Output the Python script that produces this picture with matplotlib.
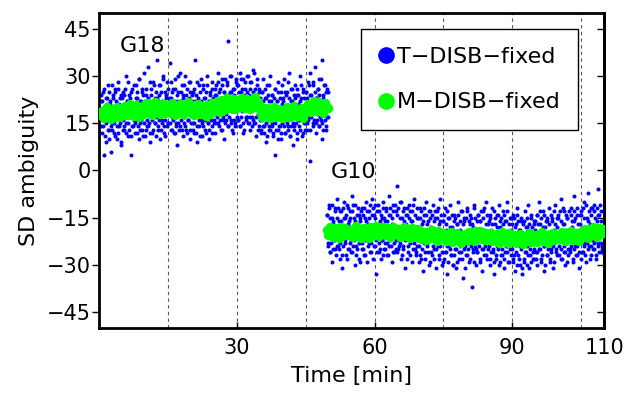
import numpy as np
import matplotlib as mpl
mpl.use('Agg')
import matplotlib.pyplot as plt
from matplotlib.lines import Line2D

mpl.rc('font', family='DejaVu Sans')

# T-DISB-fixed, satellite G18 (0 - 50 min), first pass over the arc
t_disb_g18 = [
    22, 14, 19, 25, 5, 17, 20, 9, 23, 16, 27, 13, 18, 21, 6,
    15, 24, 19, 12, 26, 17, 10, 21, 28, 14, 18, 23, 8, 20, 16,
    25, 13, 19, 30, 15, 22, 11, 17, 24, 20, 5, 26, 14, 21, 18,
    12, 27, 16, 23, 19, 10, 29, 15, 22, 13, 25, 18, 31, 11, 20,
    24, 16, 33, 14, 21, 9, 26, 18, 12, 28, 20, 15, 23, 17, 35,
    13, 22, 27, 10, 19, 25, 16, 30, 14, 21, 11, 24, 18, 28, 15,
    20, 34, 13, 23, 17, 26, 12, 19, 29, 15, 22, 8, 25, 18, 31,
    14, 21, 27, 11, 24, 17, 30, 13, 20, 26, 16, 23, 10, 28, 19,
    22, 15, 25, 12, 35, 18, 24, 9, 21, 27, 14, 19, 29, 16, 11,
    26, 17, 13, 23, 20, 30, 15, 22, 10, 25, 18, 28, 14, 21, 16,
    24, 12, 27, 19, 31, 15, 22, 26, 13, 20, 29, 17, 25, 10, 23,
    18, 28, 14, 41, 21, 25, 16, 30, 19, 12, 26, 22, 15, 29, 20,
    27, 16, 23, 31, 14, 25, 19, 29, 12, 22, 26, 17, 30, 21, 15,
    24, 13, 28, 20, 17, 32, 22, 15, 26, 11, 23, 29, 18, 25, 14,
    21, 12, 25, 16, 29, 14, 19, 23, 9, 27, 17, 22, 13, 30, 18,
    15, 24, 11, 20, 26, 5, 17, 22, 13, 28, 19, 14, 25, 10, 21,
    23, 16, 29, 12, 20, 25, 14, 18, 31, 11, 22, 17, 26, 8, 19,
    14, 27, 19, 24, 10, 21, 16, 30, 13, 23, 18, 26, 12, 20, 15,
    25, 13, 22, 28, 17, 31, 3, 24, 19, 27, 15, 21, 33, 12, 23,
    18, 26, 14, 29, 21, 16, 35, 10, 24, 20, 27, 13, 22, 17, 25,
]

# T-DISB-fixed, satellite G18, second pass (points around the green band)
t_disb_g18_b = [
    24, 12, 22, 14, 26, 11, 23, 15, 21, 13, 25, 10, 22, 14, 27,
    13, 23, 15, 25, 11, 22, 14, 26, 12, 21, 15, 24, 9, 23, 13,
    24, 14, 26, 12, 22, 15, 28, 13, 23, 11, 25, 14, 21, 16, 27,
    15, 23, 12, 25, 14, 29, 13, 22, 16, 26, 11, 24, 15, 22, 13,
    26, 14, 23, 15, 28, 12, 24, 16, 22, 13, 27, 15, 25, 11, 23,
    14, 24, 16, 27, 13, 22, 15, 29, 12, 25, 16, 23, 14, 26, 15,
    23, 15, 28, 13, 25, 16, 22, 12, 26, 14, 24, 15, 30, 13, 22,
    16, 25, 13, 23, 15, 27, 14, 24, 12, 22, 16, 28, 13, 25, 15,
    24, 13, 26, 15, 22, 12, 28, 14, 23, 16, 25, 11, 22, 15, 27,
    14, 23, 16, 25, 12, 27, 15, 22, 13, 24, 16, 26, 12, 23, 15,
    26, 15, 24, 17, 28, 14, 25, 16, 23, 13, 27, 16, 25, 15, 29,
    16, 27, 14, 24, 17, 30, 15, 25, 13, 26, 16, 24, 14, 28, 17,
    27, 16, 25, 14, 29, 17, 26, 15, 24, 13, 28, 16, 25, 17, 30,
    15, 26, 17, 28, 14, 25, 16, 31, 15, 24, 17, 27, 13, 26, 16,
    23, 13, 25, 14, 22, 12, 26, 15, 23, 11, 24, 14, 27, 13, 22,
    14, 24, 12, 23, 15, 26, 13, 22, 10, 25, 14, 23, 12, 27, 15,
    22, 14, 25, 12, 24, 15, 28, 13, 23, 11, 26, 14, 22, 15, 24,
    13, 23, 15, 26, 12, 24, 14, 22, 16, 27, 11, 25, 15, 23, 13,
    25, 15, 23, 16, 27, 13, 24, 17, 22, 14, 28, 16, 25, 15, 23,
    16, 26, 14, 24, 17, 29, 15, 23, 13, 27, 16, 25, 14, 26, 17,
]

# T-DISB-fixed, satellite G10 (50 - 110 min), first pass
t_disb_g10 = [
    -14, -23, -18, -11, -26, -20, -15, -29, -17, -22, -12, -25, -19, -9, -21,
    -24, -16, -28, -13, -20, -31, -18, -10, -23, -15, -27, -21, -12, -17, -25,
    -13, -22, -8, -26, -19, -15, -30, -11, -24, -18, -21, -14, -28, -16, -20,
    -25, -12, -19, -27, -15, -22, -10, -29, -17, -23, -13, -20, -26, -9, -18,
    -21, -14, -24, -11, -33, -17, -20, -26, -13, -19, -28, -15, -22, -10, -25,
    -16, -23, -12, -27, -19, -8, -24, -14, -21, -29, -17, -11, -26, -18, -22,
    -13, -5, -25, -18, -22, -10, -28, -15, -20, -24, -12, -31, -17, -21, -14,
    -26, -19, -11, -23, -16, -29, -13, -21, -9, -25, -18, -27, -15, -22, -20,
    -24, -12, -28, -17, -21, -32, -14, -26, -19, -10, -23, -16, -30, -20, -13,
    -18, -27, -11, -22, -25, -15, -31, -20, -13, -24, -17, -28, -9, -21, -26,
    -16, -29, -22, -12, -26, -19, -33, -15, -24, -20, -11, -27, -18, -23, -30,
    -14, -25, -21, -31, -17, -10, -28, -23, -19, -26, -13, -22, -34, -16, -24,
    -20, -27, -12, -23, -29, -17, -21, -15, -37, -25, -18, -11, -24, -30, -19,
    -26, -14, -22, -28, -16, -20, -32, -13, -25, -19, -23, -10, -27, -21, -17,
    -24, -15, -30, -19, -12, -26, -22, -33, -17, -28, -14, -21, -25, -11, -29,
    -18, -23, -27, -13, -20, -31, -16, -24, -10, -26, -21, -29, -15, -22, -19,
    -25, -14, -28, -21, -32, -17, -23, -12, -27, -19, -30, -24, -16, -33, -20,
    -22, -29, -13, -26, -18, -24, -11, -31, -20, -27, -15, -23, -28, -17, -25,
    -19, -26, -14, -30, -22, -10, -25, -17, -28, -21, -13, -24, -32, -18, -23,
    -27, -16, -21, -12, -29, -20, -25, -15, -31, -19, -23, -11, -26, -18, -22,
    -14, -24, -20, -28, -9, -22, -17, -26, -13, -30, -19, -23, -15, -27, -21,
    -25, -12, -22, -18, -29, -16, -8, -24, -20, -27, -14, -21, -31, -17, -23,
    -13, -21, -26, -10, -23, -18, -29, -15, -20, -7, -24, -17, -27, -12, -22,
    -19, -25, -11, -22, -28, -16, -6, -23, -14, -20, -26, -13, -24, -18, -21,
]

# T-DISB-fixed, satellite G10, second pass (points around the green band)
t_disb_g10_b = [
    -14, -24, -12, -26, -15, -23, -11, -25, -16, -22, -13, -27, -15, -24, -12,
    -25, -13, -23, -16, -27, -12, -24, -15, -22, -14, -28, -11, -25, -16, -23,
    -15, -26, -13, -24, -11, -22, -16, -27, -14, -25, -12, -23, -15, -29, -13,
    -23, -14, -25, -12, -27, -16, -22, -13, -24, -15, -26, -11, -23, -14, -28,
    -12, -24, -15, -22, -13, -26, -11, -23, -16, -25, -14, -22, -12, -27, -15,
    -25, -13, -23, -16, -27, -14, -22, -12, -24, -15, -26, -13, -23, -11, -25,
    -14, -26, -12, -24, -15, -23, -10, -27, -13, -25, -16, -22, -14, -28, -12,
    -24, -15, -27, -13, -22, -16, -25, -11, -23, -14, -26, -12, -24, -15, -29,
    -15, -27, -13, -25, -16, -23, -12, -28, -14, -24, -17, -26, -13, -29, -15,
    -26, -14, -24, -16, -28, -13, -25, -15, -23, -12, -27, -16, -24, -14, -30,
    -16, -28, -14, -26, -17, -24, -13, -29, -15, -25, -18, -27, -14, -30, -16,
    -27, -15, -25, -17, -29, -14, -26, -16, -24, -13, -28, -17, -25, -15, -31,
    -15, -27, -13, -25, -16, -28, -14, -24, -17, -26, -12, -29, -15, -25, -16,
    -26, -14, -24, -16, -29, -13, -25, -15, -27, -12, -24, -17, -28, -14, -25,
    -16, -28, -14, -26, -17, -25, -13, -29, -15, -27, -18, -24, -14, -30, -16,
    -27, -15, -25, -17, -28, -14, -26, -16, -24, -13, -29, -17, -25, -15, -27,
    -17, -29, -15, -27, -18, -26, -14, -30, -16, -28, -19, -25, -15, -31, -17,
    -28, -16, -26, -18, -30, -15, -27, -17, -25, -14, -29, -18, -26, -16, -28,
    -16, -28, -14, -26, -17, -25, -13, -29, -15, -27, -18, -24, -14, -30, -16,
    -27, -15, -25, -17, -28, -14, -26, -16, -24, -13, -29, -17, -25, -15, -27,
    -15, -27, -13, -25, -16, -28, -12, -24, -17, -26, -14, -29, -15, -25, -13,
    -26, -14, -24, -16, -28, -13, -25, -15, -27, -12, -24, -17, -26, -14, -28,
    -14, -26, -12, -24, -15, -27, -11, -23, -16, -25, -13, -28, -14, -24, -12,
    -25, -13, -23, -15, -27, -12, -24, -14, -26, -11, -23, -16, -25, -13, -27,
]

# M-DISB-fixed, satellite G18
m_disb_g18 = [
    17.5, 19.0, 16.8, 18.6, 20.1, 17.2, 18.9, 16.4, 19.6, 18.1, 17.0, 20.3, 18.4, 16.9, 19.2,
    18.3, 20.4, 17.6, 19.8, 21.0, 18.0, 19.4, 17.2, 20.7, 18.8, 16.9, 20.1, 19.0, 17.8, 21.2,
    19.1, 21.3, 18.2, 20.5, 17.6, 19.9, 21.7, 18.7, 20.2, 17.9, 19.4, 21.0, 18.4, 20.8, 19.6,
    20.3, 18.1, 21.5, 19.2, 17.7, 20.9, 18.6, 21.2, 19.7, 17.9, 20.6, 18.9, 21.6, 19.0, 18.3,
    19.5, 17.6, 20.8, 18.4, 21.1, 17.9, 19.8, 20.5, 18.2, 17.4, 20.9, 19.1, 18.0, 21.3, 18.7,
    19.6, 21.8, 20.2, 18.7, 22.4, 20.9, 19.3, 21.5, 22.9, 19.9, 21.1, 20.4, 22.6, 19.4, 21.7,
    22.3, 20.1, 21.8, 23.0, 19.9, 21.4, 22.7, 20.6, 19.6, 22.1, 21.0, 23.2, 20.3, 21.9, 20.8,
    18.2, 16.9, 19.7, 17.8, 20.0, 18.6, 16.6, 19.2, 17.4, 20.3, 18.9, 17.1, 19.5, 18.0, 16.8,
    19.0, 17.5, 20.2, 18.3, 16.9, 19.6, 17.8, 20.4, 18.7, 17.2, 19.3, 18.1, 20.0, 16.7, 18.9,
    19.4, 21.2, 18.6, 20.7, 19.9, 22.0, 18.9, 20.3, 21.6, 19.2, 20.9, 18.4, 21.4, 20.1, 19.7,
]

# M-DISB-fixed, satellite G10
m_disb_g10 = [
    -18.9, -20.6, -17.8, -19.9, -21.2, -18.4, -20.1, -19.3, -21.5, -17.9, -20.8, -19.0, -18.2, -20.4, -19.6,
    -20.2, -18.6, -21.0, -19.4, -17.7, -20.7, -18.9, -21.3, -19.8, -18.3, -20.5, -19.1, -21.6, -18.0, -20.0,
    -18.7, -20.4, -17.6, -19.5, -20.9, -18.1, -19.8, -17.9, -20.6, -19.2, -18.4, -21.0, -19.0, -17.8, -20.2,
    -19.9, -18.5, -21.1, -19.2, -20.5, -17.9, -20.8, -18.8, -19.6, -21.4, -18.2, -20.3, -19.4, -21.0, -18.6,
    -20.1, -21.8, -19.4, -20.9, -22.2, -19.7, -21.3, -20.5, -18.9, -21.6, -20.0, -22.4, -19.2, -21.1, -20.7,
    -21.5, -19.8, -22.3, -20.6, -21.9, -19.5, -22.6, -20.9, -21.2, -19.9, -22.0, -20.4, -23.0, -21.0, -20.2,
    -20.8, -22.1, -19.6, -21.4, -20.0, -22.5, -19.3, -21.7, -20.4, -19.1, -21.9, -20.6, -22.2, -19.8, -21.0,
    -21.3, -19.9, -22.4, -20.7, -21.8, -20.2, -22.9, -21.0, -19.7, -22.1, -20.5, -21.6, -23.1, -20.0, -21.5,
    -22.0, -20.6, -23.1, -21.4, -22.7, -20.2, -21.9, -23.4, -20.9, -22.3, -21.2, -19.9, -22.8, -21.6, -20.5,
    -21.2, -22.6, -20.1, -21.8, -19.7, -22.4, -20.8, -21.5, -23.0, -20.3, -21.9, -19.9, -22.2, -21.0, -20.6,
    -20.4, -21.9, -19.6, -21.2, -22.3, -19.9, -20.8, -21.6, -19.2, -22.0, -20.5, -21.3, -19.8, -22.5, -20.1,
    -19.3, -20.8, -18.5, -20.2, -21.4, -18.8, -19.9, -17.9, -20.6, -19.1, -21.0, -18.2, -20.3, -19.6, -18.7,
]

# epoch span of each satellite arc, in minutes
g18_span = (0.3, 49.8)
g10_span = (49.6, 109.9)

x_ticks = [30, 60, 90, 110]
x_grid = [15, 30, 45, 60, 75, 90, 105]
y_ticks = [-45, -30, -15, 0, 15, 30, 45]

blue = '#0000ff'
green = '#00ff00'

fig = plt.figure(figsize=(6.28, 3.96), dpi=100)
ax = fig.add_axes([0.158, 0.172, 0.804, 0.795])

for xg in x_grid:
    ax.axvline(xg, color='#555555', linestyle=(0, (3, 3)), linewidth=0.8,
               zorder=0)

# blue cloud, two passes per arc with slightly shifted epochs
for vals, span, shift in [(t_disb_g18, g18_span, 0.0),
                          (t_disb_g18_b, g18_span, 0.08),
                          (t_disb_g10, g10_span, 0.0),
                          (t_disb_g10_b, g10_span, 0.08)]:
    tt = np.linspace(span[0] + shift, span[1], len(vals))
    ax.plot(tt, vals, linestyle='none', marker='o', markersize=2.9,
            markerfacecolor=blue, markeredgecolor='none', zorder=2)

for vals, span in [(m_disb_g18, g18_span), (m_disb_g10, g10_span)]:
    tt = np.linspace(span[0], span[1], len(vals))
    ax.plot(tt, vals, linestyle='none', marker='o', markersize=6.8,
            markerfacecolor=green, markeredgecolor='none', zorder=3)

ax.text(4.5, 39.5, 'G18', fontsize=16, va='center', ha='left')
ax.text(50.5, -0.5, 'G10', fontsize=16, va='center', ha='left')

ax.set_xlim(0, 110)
ax.set_ylim(-50, 50)
ax.set_xticks(x_ticks)
ax.set_yticks(y_ticks)
ax.tick_params(axis='y', direction='out', length=5, width=1, pad=1,
               labelsize=15)
ax.tick_params(axis='x', direction='in', length=4, width=1, pad=7,
               labelsize=15)

# inward ticks on the right side
ax_r = ax.secondary_yaxis('right')
ax_r.set_yticks(y_ticks)
ax_r.tick_params(direction='in', length=5, width=1, labelright=False)
ax_r.spines['right'].set_linewidth(2)

for sp in ax.spines.values():
    sp.set_linewidth(2)

ax.set_xlabel('Time [min]', fontsize=16, labelpad=6)
ax.set_ylabel('SD ambiguity', fontsize=16, labelpad=6)

handles = [
    Line2D([], [], linestyle='none', marker='o', markersize=12,
           markerfacecolor=blue, markeredgecolor='none',
           label='T\u2212DISB\u2212fixed'),
    Line2D([], [], linestyle='none', marker='o', markersize=12,
           markerfacecolor=green, markeredgecolor='none',
           label='M\u2212DISB\u2212fixed'),
]
leg = ax.legend(handles=handles, loc='upper right',
                bbox_to_anchor=(0.949, 0.949), borderaxespad=0,
                fontsize=16, fancybox=False, framealpha=1,
                edgecolor='black', handlelength=0.6, handletextpad=0.2,
                borderpad=0.8, labelspacing=1.15)
leg.get_frame().set_linewidth(1)

fig.savefig('out.png', dpi=100)
